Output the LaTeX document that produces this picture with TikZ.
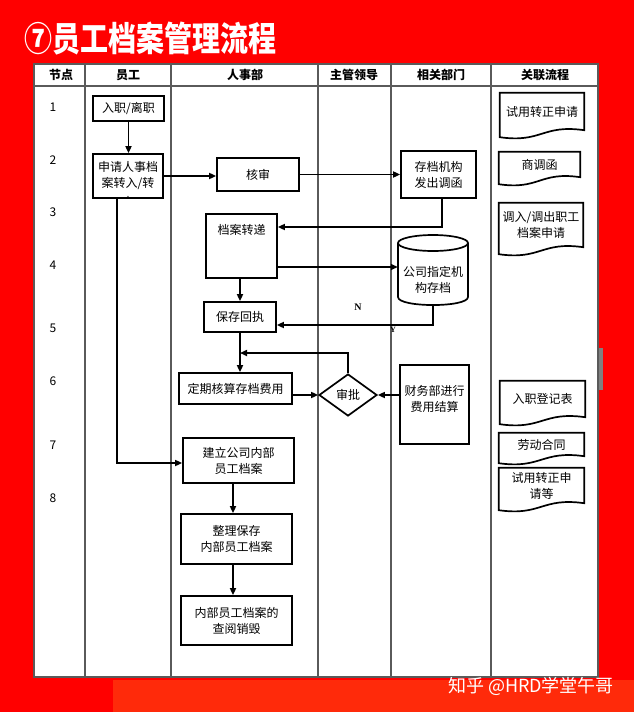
\documentclass[tikz,border=0pt]{standalone}
\usepackage{fontspec}
\setmainfont{Noto Sans CJK SC}
\newfontfamily\serifb{Liberation Serif}
\usetikzlibrary{arrows.meta,shapes.geometric,calc}
\definecolor{bgred}{HTML}{FF0000}
\definecolor{bgred2}{HTML}{FF2A0A}
\definecolor{gridgray}{HTML}{5A5A5A}
\newcommand\mydoc[1]{\draw[docline] (#1.south east) -- (#1.north east) -- (#1.north west) -- ([yshift=-7pt]#1.south west) .. controls ($(#1.south west)!0.5!(#1.south east)+(0,13)$) and ($(#1.south west)!0.5!(#1.south east)+(0,-6)$) .. (#1.south east) -- cycle;}
\begin{document}
\begin{tikzpicture}[x=1pt,y=-1pt,
 box/.style={draw=black, line width=1.7pt, fill=white, inner sep=0pt, align=center, font=\fontsize{12}{16}\selectfont},
 lbl/.style={inner sep=0pt, align=center, font=\fontsize{12}{16}\selectfont},
 hdr/.style={inner sep=0pt, font=\bfseries\fontsize{12}{15}\selectfont},
 numlbl/.style={inner sep=0pt, font=\fontsize{12}{15}\selectfont},
 arr/.style={draw=black, line width=1.6pt, -{Triangle[length=7pt,width=6pt]}},
 gridln/.style={draw=gridgray, line width=1.4pt},
 docline/.style={draw=black, line width=1.7pt},
 docnode/.style={inner sep=0pt, align=center, font=\fontsize{12}{16}\selectfont},
]
\useasboundingbox (0,0) rectangle (634,712);
% background
\fill[bgred] (0,0) rectangle (634,712);
\fill[bgred2] (113,680) rectangle (634,712);
\fill[white] (34,64) rectangle (598,677);
\fill[gray] (599,348) rectangle (603,390);
% title
\begin{scope}[shift={(24,39)}, yscale=1.22]
\node[anchor=west, inner sep=0pt, text=white, transform shape, font=\bfseries\fontsize{28}{30}\selectfont] (title) at (0,0) {⑦员工档案管理流程};
\end{scope}
% table grid
\draw[gridln] (34,64) rectangle (598,677);
\draw[gridln] (34,86) -- (598,86);
\foreach \x in {85,171,318,391,491} {\draw[gridln] (\x,64) -- (\x,677);}
% headers
\node[hdr] (h1) at (61,75) {节点};
\node[hdr] (h2) at (128,75) {员工};
\node[hdr] (h3) at (245,75) {人事部};
\node[hdr] (h4) at (354,75) {主管领导};
\node[hdr] (h5) at (441,75) {相关部门};
\node[hdr] (h6) at (545,75) {关联流程};
% node numbers
\node[numlbl] (k1) at (53,107) {1};
\node[numlbl] (k2) at (53,160) {2};
\node[numlbl] (k3) at (53,212) {3};
\node[numlbl] (k4) at (53,265) {4};
\node[numlbl] (k5) at (53,328) {5};
\node[numlbl] (k6) at (53,381) {6};
\node[numlbl] (k7) at (53,445) {7};
\node[numlbl] (k8) at (53,498) {8};
% flow boxes
\node[box, minimum width=71pt, minimum height=25pt] (n1) at (128.5,108.5) {入职/离职};
\begin{scope}
\clip (95,190) rectangle (161,197);
\node[lbl] (n2c) at (128,202) {出};
\end{scope}
\node[box, fill=none, minimum width=70pt, minimum height=44pt] (n2) at (128,176) {申请人事档\\案转入/转};
\node[box, minimum width=82pt, minimum height=33pt] (hs) at (258,174.5) {核审};
\node[box, minimum width=75pt, minimum height=47pt] (cd) at (438.5,174.5) {存档机构\\发出调函};
\node[box, minimum width=71pt, minimum height=64pt] (dz) at (241.5,246) {};
\node[lbl] (dzt) at (241.5,230) {档案转递};
\node[inner sep=0pt, minimum width=70pt, minimum height=70pt] (cyl) at (433,270) {};
\draw[black, line width=1.7pt] (398,243) -- (398,297) .. controls (398,307.7) and (468,307.7) .. (468,297) -- (468,243);
\draw[black, line width=1.7pt] (433,243) ellipse [x radius=35, y radius=8];
\node[lbl] (cylt) at (433,280) {公司指定机\\构存档};
\node[box, minimum width=72pt, minimum height=30pt] (bc) at (240,317) {保存回执};
\node[box, minimum width=113pt, minimum height=31pt] (dq) at (235.5,388.5) {定期核算存档费用};
\node[diamond, draw=black, line width=1.7pt, fill=white, inner sep=0pt, minimum width=58pt, minimum height=42pt, font=\fontsize{12}{16}\selectfont] (sp) at (348,395) {审批};
\node[box, minimum width=69pt, minimum height=79pt] (cw) at (434.5,404.5) {};
\node[lbl] (cwt) at (434.5,398.5) {财务部进行\\费用结算};
\node[box, minimum width=111pt, minimum height=45pt] (jl) at (238.5,460.5) {建立公司内部\\员工档案};
\node[box, minimum width=111pt, minimum height=50pt] (zl) at (236.5,539) {整理保存\\内部员工档案};
\node[box, minimum width=111pt, minimum height=49pt] (cy) at (236.5,620.5) {内部员工档案的\\查阅销毁};
% documents
\node[docnode, minimum width=84pt, minimum height=37pt] (r1) at (542,111.5) {试用转正申请};
\mydoc{r1}
\node[docnode, minimum width=81pt, minimum height=25pt] (r2) at (539.5,164.5) {商调函};
\mydoc{r2}
\node[docnode, minimum width=84pt, minimum height=44pt] (r3) at (541,225) {调入/调出职工\\档案申请};
\mydoc{r3}
\node[docnode, minimum width=85pt, minimum height=36pt] (r4) at (542.5,399) {入职登记表};
\mydoc{r4}
\node[docnode, minimum width=85pt, minimum height=23pt] (r5) at (541.5,444.5) {劳动合同};
\mydoc{r5}
\node[docnode, minimum width=85pt, minimum height=35pt] (r6) at (541.5,485.5) {试用转正申\\请等};
\mydoc{r6}
% connectors
\draw[arr] (n1.south) -- (n1.south |- n2.north);
\draw[arr] (n2.east) -- (n2.east -| hs.west);
\draw[arr] (hs.east) -- (hs.east -| cd.west);
\draw[arr] ([xshift=3.5pt]cd.south) |- ([yshift=19pt]dz.east);
\draw[arr] ([yshift=-21pt]dz.east) -- ([yshift=-21pt]dz.east -| cyl.west);
\draw[arr] (cyl.south) |- ([yshift=-8pt]bc.east);
\draw[arr] (bc.north |- dz.south) -- (bc.north);
\draw[arr] (bc.south) -- (bc.south |- dq.north);
\coordinate (j) at (240,353);
\draw[arr] (sp.north) |- (j);
\draw[arr] (dq.east |- sp.west) -- (sp.west);
\draw[arr] (cw.west |- sp.east) -- (sp.east);
\draw[arr] ([xshift=-11pt]n2.south) |- ([yshift=-2.5pt]jl.west);
\draw[arr] ([xshift=-5.5pt]jl.south) -- ([xshift=-5.5pt]jl.south |- zl.north);
\draw[arr] ([xshift=-3.5pt]zl.south) -- ([xshift=-3.5pt]zl.south |- cy.north);
% labels
\node[inner sep=0pt, font=\serifb\bfseries\fontsize{10}{10}\selectfont] (lN) at (358,307) {N};
\node[inner sep=0pt, font=\serifb\bfseries\fontsize{8}{8}\selectfont] (lY) at (393,330) {Y};
% watermark
\node[inner sep=0pt, text=white, font=\fontsize{18}{20}\selectfont] (wm) at (531,686) {知乎 @HRD学堂午哥};
\end{tikzpicture}
\end{document}
